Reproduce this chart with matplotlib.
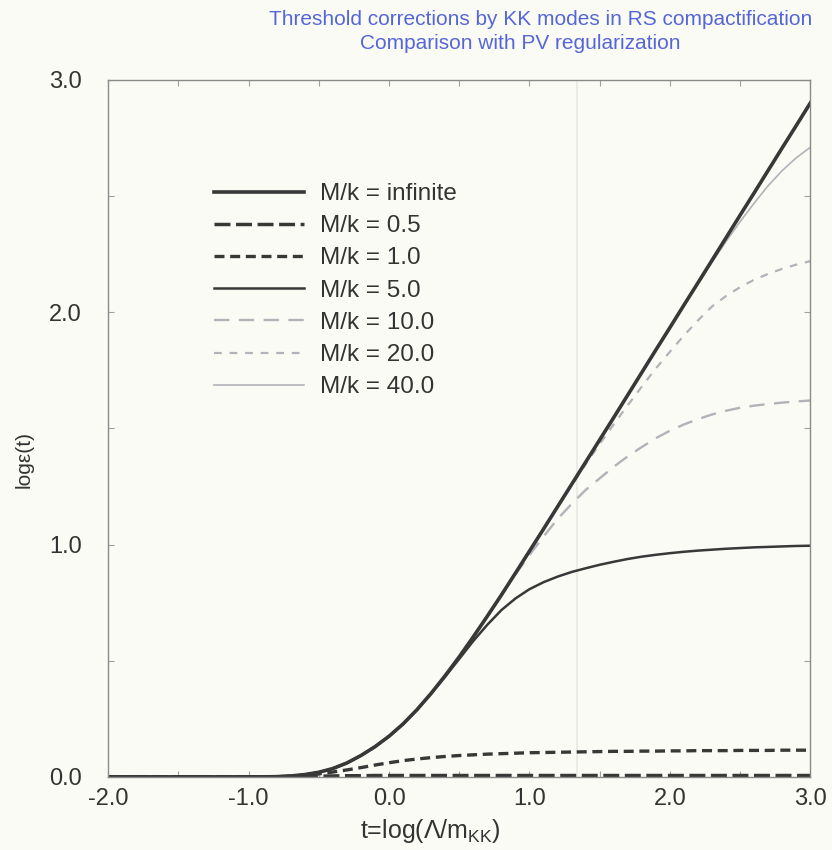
import matplotlib
matplotlib.use("Agg")
import matplotlib.pyplot as plt
import numpy as np

plt.rcParams['font.family'] = ['Liberation Sans', 'DejaVu Sans']
plt.rcParams['mathtext.fontset'] = 'custom'
plt.rcParams['mathtext.rm'] = 'Liberation Sans'
plt.rcParams['mathtext.it'] = 'Liberation Sans'

# ---- data ----
t = [-2.0, -1.5,
     -1.0, -0.9, -0.8, -0.7, -0.6, -0.5, -0.4, -0.3, -0.2, -0.1,
     0.0, 0.1, 0.2, 0.3, 0.4, 0.5, 0.6, 0.7, 0.8, 0.9,
     1.0, 1.1, 1.2, 1.3, 1.4, 1.5, 1.6, 1.7, 1.8, 1.9,
     2.0, 2.1, 2.2, 2.3, 2.4, 2.5, 2.6, 2.7, 2.8, 2.9,
     3.0]

y_inf = [0.0, 0.0,
         0.0, 0.0, 0.001, 0.004, 0.010, 0.020, 0.036, 0.060, 0.092, 0.130,
         0.175, 0.228, 0.290, 0.360, 0.436, 0.517, 0.603, 0.692, 0.783, 0.877,
         0.972, 1.067, 1.163, 1.259, 1.355, 1.451, 1.547, 1.644, 1.741, 1.838,
         1.934, 2.031, 2.127, 2.224, 2.321, 2.418, 2.514, 2.611, 2.708, 2.804,
         2.901]
y_05 = [0.0, 0.0,
        0.0, 0.0, 0.0, 0.001, 0.002, 0.003, 0.004, 0.005, 0.005, 0.006,
        0.006, 0.006, 0.006, 0.006, 0.006, 0.006, 0.006, 0.006, 0.006, 0.006,
        0.006, 0.006, 0.006, 0.006, 0.006, 0.006, 0.006, 0.006, 0.006, 0.006,
        0.006, 0.006, 0.006, 0.006, 0.006, 0.006, 0.006, 0.006, 0.006, 0.006,
        0.006]
y_10 = [0.0, 0.0,
        0.0, 0.0, 0.001, 0.003, 0.007, 0.013, 0.021, 0.030, 0.040, 0.051,
        0.061, 0.070, 0.077, 0.083, 0.088, 0.092, 0.095, 0.098, 0.100, 0.102,
        0.104, 0.105, 0.106, 0.107, 0.108, 0.109, 0.110, 0.110, 0.111, 0.111,
        0.112, 0.112, 0.113, 0.113, 0.113, 0.114, 0.114, 0.114, 0.115, 0.115,
        0.115]
y_50 = [0.0, 0.0,
        0.0, 0.0, 0.001, 0.004, 0.010, 0.020, 0.036, 0.060, 0.092, 0.130,
        0.175, 0.228, 0.290, 0.358, 0.432, 0.508, 0.585, 0.655, 0.718, 0.768,
        0.808, 0.838, 0.862, 0.882, 0.898, 0.913, 0.926, 0.938, 0.948, 0.956,
        0.963, 0.969, 0.974, 0.978, 0.982, 0.985, 0.988, 0.990, 0.992, 0.994,
        0.995]
y_100 = [0.0, 0.0,
         0.0, 0.0, 0.001, 0.004, 0.010, 0.020, 0.036, 0.060, 0.092, 0.130,
         0.175, 0.228, 0.290, 0.360, 0.436, 0.517, 0.603, 0.692, 0.783, 0.872,
         0.955, 1.035, 1.110, 1.175, 1.235, 1.285, 1.335, 1.380, 1.420, 1.458,
         1.490, 1.517, 1.540, 1.560, 1.576, 1.589, 1.598, 1.605, 1.611, 1.616,
         1.620]
y_200 = [0.0, 0.0,
         0.0, 0.0, 0.001, 0.004, 0.010, 0.020, 0.036, 0.060, 0.092, 0.130,
         0.175, 0.228, 0.290, 0.360, 0.436, 0.517, 0.603, 0.692, 0.783, 0.877,
         0.972, 1.067, 1.163, 1.255, 1.345, 1.433, 1.518, 1.600, 1.680, 1.758,
         1.830, 1.900, 1.965, 2.025, 2.070, 2.108, 2.140, 2.165, 2.187, 2.205,
         2.220]
y_400 = [0.0, 0.0,
         0.0, 0.0, 0.001, 0.004, 0.010, 0.020, 0.036, 0.060, 0.092, 0.130,
         0.175, 0.228, 0.290, 0.360, 0.436, 0.517, 0.603, 0.692, 0.783, 0.877,
         0.972, 1.067, 1.163, 1.259, 1.355, 1.451, 1.547, 1.644, 1.741, 1.838,
         1.934, 2.030, 2.122, 2.215, 2.305, 2.390, 2.470, 2.545, 2.610, 2.665,
         2.710]

labels = ["M/k = infinite", "M/k = 0.5", "M/k = 1.0", "M/k = 5.0",
          "M/k = 10.0", "M/k = 20.0", "M/k = 40.0"]
series = [y_inf, y_05, y_10, y_50, y_100, y_200, y_400]

xticks = [-2.0, -1.0, 0.0, 1.0, 2.0, 3.0]
yticks = [0.0, 1.0, 2.0, 3.0]

# ---- styles ----
dark = '#383838'
light = '#b2b2b8'
styles = [
    dict(color=dark, lw=2.6, ls='-'),
    dict(color=dark, lw=2.5, ls=(0, (4.6, 1.6))),
    dict(color=dark, lw=2.4, ls=(0, (3.0, 1.7))),
    dict(color=dark, lw=1.8, ls='-'),
    dict(color=light, lw=1.7, ls=(0, (6.5, 4.0))),
    dict(color=light, lw=1.6, ls=(0, (3.5, 3.5))),
    dict(color=light, lw=1.2, ls='-'),
]

bg = '#fbfbf6'
fig = plt.figure(figsize=(8.32, 8.5), dpi=100, facecolor=bg)
ax = fig.add_axes([0.130, 0.086, 0.844, 0.820], facecolor=bg)

# faint scan line
ax.axvline(1.34, color='#e8e8e4', lw=1.2, zorder=0)

order = [6, 5, 4, 3, 2, 1, 0]
handles = {}
for i in order:
    h, = ax.plot(t, series[i], label=labels[i], **styles[i])
    handles[i] = h

ax.set_xlim(-2.0, 3.0)
ax.set_ylim(0.0, 3.0)
ax.set_xticks(xticks)
ax.set_yticks(yticks)
ax.set_xticklabels([f"{v:.1f}" for v in xticks])
ax.set_yticklabels([f"{v:.1f}" for v in yticks])
ax.set_xticks(np.arange(-2.0, 3.01, 0.5), minor=True)
ax.set_yticks(np.arange(0.0, 3.01, 0.5), minor=True)
ax.tick_params(which='both', direction='in', top=True, right=True,
               length=4, width=0.8, color='#a0a0a0', labelsize=17,
               labelcolor='#333333')
ax.tick_params(axis='x', pad=8)
ax.tick_params(axis='y', pad=19)
for s in ax.spines.values():
    s.set_color('#8a8a8a')
    s.set_linewidth(1.0)

ax.set_xlabel("t=log(Λ/m$_{\\mathrm{KK}}$)", fontsize=18, color='#333333')
ax.xaxis.set_label_coords(0.459, -0.058)
ax.set_ylabel("logε(t)", fontsize=15, color='#333333')
ax.yaxis.set_label_coords(-0.106, 0.455)

leg = ax.legend([handles[i] for i in range(7)], labels, loc='upper left',
                bbox_to_anchor=(0.137, 0.866), frameon=False, fontsize=17.5,
                handlelength=3.7, handletextpad=0.65, labelspacing=0.42,
                borderaxespad=0)
for txt in leg.get_texts():
    txt.set_color('#333333')

title_col = '#5566d8'
fig.text(0.650, 0.977, "Threshold corrections by KK modes in RS compactification",
         ha='center', va='center', fontsize=15, color=title_col)
fig.text(0.625, 0.949, "Comparison with PV regularization",
         ha='center', va='center', fontsize=15, color=title_col)

fig.savefig("out.png", dpi=100, facecolor=bg)
